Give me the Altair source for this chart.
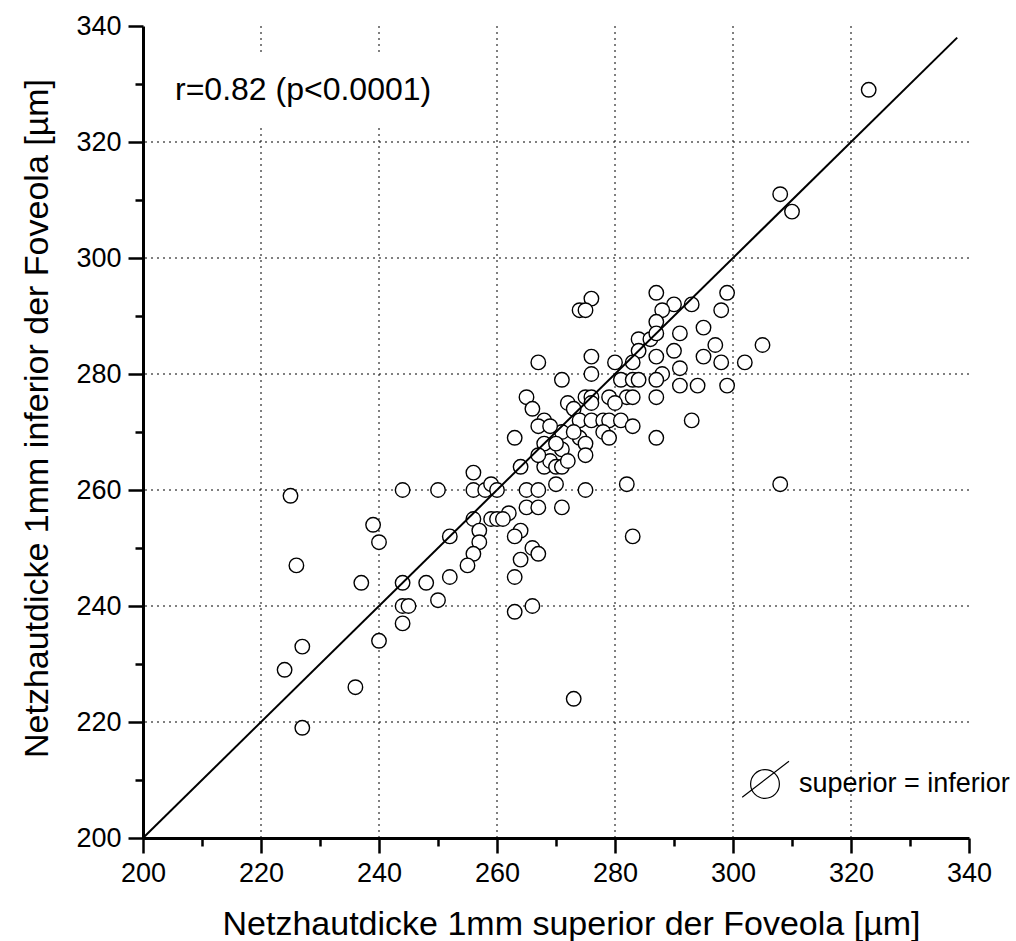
import altair as alt
import pandas as pd

# ---- data ----
sup = [323, 308, 310, 287, 299, 276, 274, 275, 290, 293, 288, 298, 287, 284, 286, 287, 291, 295,
       297, 305, 284, 290, 287, 295, 276, 267, 280, 283, 298, 302, 291, 271, 288, 276, 281, 283,
       284, 287, 291, 294, 299, 287, 279, 282, 283, 275, 276, 276, 280, 272, 273, 265, 266, 274,
       276, 278, 279, 281, 283, 278, 279, 287, 293, 274, 275, 275, 271, 268, 267, 269, 263, 268,
       271, 264, 268, 269, 270, 271, 272, 256, 256, 258, 259, 260, 265, 267, 270, 275, 282, 308,
       244, 250, 225, 262, 265, 267, 271, 256, 259, 260, 261, 257, 257, 256, 255, 264, 263, 252,
       239, 240, 226, 264, 266, 267, 283, 237, 244, 248, 252, 263, 263, 266, 244, 245, 244, 250,
       240, 227, 224, 236, 227, 273, 270, 273, 267]
inf = [329, 311, 308, 294, 294, 293, 291, 291, 292, 292, 291, 291, 289, 286, 286, 287, 287, 288,
       285, 285, 284, 284, 283, 283, 283, 282, 282, 282, 282, 282, 281, 279, 280, 280, 279, 279,
       279, 279, 278, 278, 278, 276, 276, 276, 276, 276, 276, 275, 275, 275, 274, 276, 274, 272,
       272, 272, 272, 272, 271, 270, 269, 269, 272, 269, 268, 266, 270, 272, 271, 271, 269, 268,
       267, 264, 264, 265, 264, 264, 265, 263, 260, 260, 261, 260, 260, 260, 261, 260, 261, 261,
       260, 260, 259, 256, 257, 257, 257, 255, 255, 255, 255, 253, 251, 249, 247, 253, 252, 252,
       254, 251, 247, 248, 250, 249, 252, 244, 244, 244, 245, 245, 239, 240, 240, 240, 237, 241,
       234, 233, 229, 226, 219, 224, 268, 270, 266]

diag = [200, 338]
major_ticks = [200, 220, 240, 260, 280, 300, 320, 340]
minor_ticks = [210, 230, 250, 270, 290, 310, 330]
grid_vals = [220, 240, 260, 280, 300, 320]
domain = [200, 340]

anno_text = "r=0.82 (p<0.0001)"
legend_text = "superior = inferior"
x_title = "Netzhautdicke 1mm superior der Foveola [µm]"
y_title = "Netzhautdicke 1mm inferior der Foveola [µm]"

FONT = "Liberation Sans"

pts = pd.DataFrame({"sup": sup, "inf": inf, "anno": anno_text})
line_df = pd.DataFrame({"sup": diag, "inf": diag, "lbl": legend_text})
grid_df = pd.DataFrame({"g": grid_vals})

xs = alt.Scale(domain=domain, nice=False, zero=False)
ys = alt.Scale(domain=domain, nice=False, zero=False)

major_axis = dict(tickSize=15, tickWidth=2.5, tickColor="black", domainWidth=3,
                  domainColor="black", labelFontSize=27, labelColor="black",
                  labelPadding=7, titleFontSize=34, titleColor="black",
                  titleFontWeight="normal", titlePadding=21, labelFlush=False,
                  labelOverlap=False, grid=False)
minor_axis = dict(tickSize=8, tickWidth=2.5, tickColor="black", labels=False,
                  domain=False, grid=False, title=None)

grid_v = alt.Chart(grid_df).mark_rule(color="black", strokeWidth=1, strokeDash=[2, 4]).encode(
    x=alt.X("g:Q", scale=xs, axis=None)
)
grid_h = alt.Chart(grid_df).mark_rule(color="black", strokeWidth=1, strokeDash=[2, 4]).encode(
    y=alt.Y("g:Q", scale=ys, axis=None)
)

points = alt.Chart(pts).mark_point(
    filled=True, fill="white", stroke="black", strokeWidth=1.4, size=210, opacity=1
).encode(
    x=alt.X("sup:Q", scale=xs,
            axis=alt.Axis(values=major_ticks, orient="bottom", title=x_title,
                          titleX=428, **major_axis)),
    y=alt.Y("inf:Q", scale=ys,
            axis=alt.Axis(values=major_ticks, orient="left", title=y_title,
                          titleY=392, **major_axis)),
    shape=alt.Shape("anno:N", scale=alt.Scale(range=["circle"]),
                    legend=alt.Legend(orient="none", legendX=11, legendY=27, padding=21,
                                      fillColor="white", title=None, labelFontSize=32,
                                      labelColor="black", labelLimit=1000,
                                      labelOffset={"expr": "-32"},
                                      symbolSize=0, symbolOpacity=0, symbolStrokeWidth=0)),
)

sym_path = ("M -0.6,0 A 0.6,0.6 0 1,1 0.6,0 A 0.6,0.6 0 1,1 -0.6,0 Z "
            "M -0.95,0.55 L 1,-0.95")

line = alt.Chart(line_df).mark_line(strokeWidth=2).encode(
    x=alt.X("sup:Q", scale=xs, axis=alt.Axis(values=minor_ticks, orient="bottom", **minor_axis)),
    y=alt.Y("inf:Q", scale=ys, axis=alt.Axis(values=minor_ticks, orient="left", **minor_axis)),
    color=alt.Color("lbl:N", scale=alt.Scale(range=["black"]),
                    legend=alt.Legend(orient="none", legendX=597, legendY=733, padding=0,
                                      title=None, symbolType=sym_path, symbolSize=2304,
                                      symbolStrokeColor="black", symbolStrokeWidth=1.2,
                                      symbolFillColor="transparent", labelFontSize=27,
                                      labelColor="black", labelOffset=9, labelLimit=1000)),
)

chart = alt.layer(grid_v, grid_h, points, line).resolve_axis(
    x="independent", y="independent"
).properties(
    width=826, height=812,
    autosize=alt.AutoSizeParams(type="none"),
    padding={"left": 143, "top": 26, "right": 47, "bottom": 103},
).configure(font=FONT).configure_view(strokeWidth=0).configure_axis(
    labelFont=FONT, titleFont=FONT, domainWidth=3, tickWidth=2.5
).configure_legend(labelFont=FONT)

chart.save("out.html", embed_options={"renderer": "svg", "actions": False})
